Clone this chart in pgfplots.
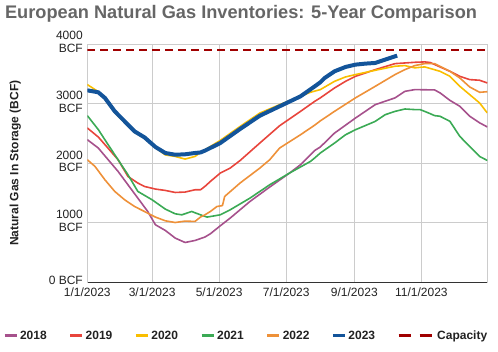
\documentclass[border=0pt]{standalone}
\usepackage{pgfplots}
\pgfplotsset{compat=1.18}
\usepackage{fontspec}
\setmainfont{Liberation Sans}
\definecolor{c2018}{HTML}{A6518C}
\definecolor{c2019}{HTML}{E8453C}
\definecolor{c2020}{HTML}{F9BE00}
\definecolor{c2021}{HTML}{3BAA55}
\definecolor{c2022}{HTML}{EE9139}
\definecolor{c2023}{HTML}{13549A}
\definecolor{ccap}{HTML}{A00000}
\definecolor{cgrid}{HTML}{CCCCCC}
\definecolor{ctitle}{HTML}{666666}
\definecolor{ctext}{HTML}{222222}
\begin{document}
\begin{tikzpicture}
\useasboundingbox (0,0) rectangle (498pt,351pt);
\begin{axis}[
  at={(87.3pt,68.5pt)}, anchor=south west,
  width=400pt, height=238.5pt, scale only axis,
  xmin=0, xmax=364, ymin=0, ymax=4000,
  axis lines*=left,
  axis line style={-},
  x axis line style={draw=black!80, line width=1.2pt},
  y axis line style={draw=cgrid, line width=1pt},
  xtick={0,59,120,181,243,304,364},
  xticklabels={1/1/2023,3/1/2023,5/1/2023,7/1/2023,9/1/2023,11/1/2023,},
  ytick={0,1000,2000,3000,4000},
  yticklabels={0 BCF,{1000\\BCF},{2000\\BCF},{3000\\BCF},{4000\\BCF}},
  major tick length=0pt,
  grid=major,
  grid style={draw=cgrid, line width=1pt},
  xticklabel style={font=\fontsize{12}{13}\selectfont, text=ctext, yshift=-2pt},
  yticklabel style={font=\fontsize{12}{12.5}\selectfont, text=ctext, align=right, yshift=2pt, xshift=-1pt},
  ylabel={Natural Gas In Storage (BCF)},
  every axis y label/.style={at={(axis description cs:0,0.5)}, xshift=-72pt, rotate=90, anchor=center, font=\bfseries\fontsize{12}{13}\selectfont, text=ctext},
  title={European Natural Gas Inventories: 5-Year Comparison},
  title style={at={(rel axis cs:-0.206,1)}, anchor=base west, yshift=20pt, inner sep=0pt, font=\bfseries\fontsize{18.2}{20}\selectfont, text=ctitle},
  legend style={at={(rel axis cs:0.397,-0.224)}, anchor=center, draw=none, fill=none,
    font=\bfseries\fontsize{12}{13}\selectfont, text=ctext,
    /tikz/every even column/.append style={column sep=20pt}},
  legend columns=-1,
  legend image code/.code={\draw[#1, line width=3pt, solid] (0pt,0pt) -- (12pt,0pt);},
  every axis plot/.append style={line join=round},
]
% 2018
\addplot[c2018, line width=1.6pt] coordinates {
(0,2396)(10,2255)(19,2059)(28,1863)(37,1639)(46,1415)(55,1191)(62,968)(71,873)(80,745)(89,671)(98,705)(107,762)(112,817)(121,951)(130,1080)(148,1359)(166,1601)(184,1835)(194,1975)(207,2215)(212,2272)(225,2506)(244,2758)(262,2983)(280,3096)(289,3206)(298,3235)(316,3230)(321,3180)(330,3055)(339,2955)(348,2788)(357,2678)(364,2609)};
\addlegendentry{2018}
% 2019
\addplot[c2019, line width=1.6pt] coordinates {
(0,2592)(10,2440)(19,2250)(28,2059)(37,1779)(46,1668)(52,1611)(62,1567)(71,1544)(80,1510)(89,1517)(98,1555)(103,1555)(107,1611)(112,1695)(121,1835)(130,1919)(139,2045)(157,2339)(175,2629)(194,2870)(207,3039)(212,3096)(225,3263)(235,3374)(244,3458)(262,3570)(280,3671)(298,3693)(307,3700)(312,3690)(321,3615)(330,3542)(339,3458)(348,3403)(357,3392)(364,3347)};
\addlegendentry{2019}
% 2020
\addplot[c2020, line width=1.6pt] coordinates {
(0,3320)(10,3200)(16,3080)(25,2850)(34,2680)(43,2520)(52,2420)(62,2260)(71,2140)(80,2114)(89,2070)(98,2114)(103,2181)(121,2383)(139,2617)(157,2842)(175,2983)(194,3122)(203,3190)(212,3235)(225,3374)(235,3448)(244,3487)(262,3559)(280,3627)(289,3638)(298,3600)(307,3616)(312,3590)(321,3542)(330,3458)(339,3290)(348,3151)(357,3011)(364,2844)};
\addlegendentry{2020}
% 2021
\addplot[c2021, line width=1.6pt] coordinates {
(0,2799)(10,2565)(19,2310)(28,2059)(37,1807)(46,1527)(59,1387)(71,1231)(80,1152)(86,1135)(95,1191)(103,1135)(109,1097)(121,1135)(130,1219)(148,1415)(166,1639)(184,1835)(203,2030)(207,2090)(212,2171)(225,2339)(235,2478)(244,2562)(262,2702)(271,2814)(280,2870)(289,2910)(298,2900)(303,2899)(307,2870)(312,2832)(316,2799)(321,2788)(330,2703)(339,2450)(348,2282)(357,2114)(364,2047)};
\addlegendentry{2021}
% 2022
\addplot[c2022, line width=1.6pt] coordinates {
(0,2059)(7,1947)(16,1723)(25,1527)(34,1387)(43,1275)(52,1191)(62,1097)(71,1035)(80,1006)(89,1030)(98,1024)(103,1097)(107,1135)(112,1191)(118,1275)(123,1290)(125,1443)(139,1668)(157,1919)(166,2059)(175,2255)(194,2478)(207,2640)(212,2710)(225,2871)(244,3096)(262,3290)(280,3487)(289,3570)(298,3638)(307,3671)(316,3671)(321,3626)(330,3542)(339,3430)(348,3279)(357,3190)(364,3200)};
\addlegendentry{2022}
% 2023
\addplot[c2023, line width=4pt] coordinates {
(0,3223)(10,3190)(16,3096)(25,2871)(34,2703)(43,2535)(52,2435)(62,2273)(71,2172)(80,2143)(89,2150)(98,2172)(103,2181)(107,2211)(121,2339)(139,2574)(157,2797)(175,2955)(194,3122)(207,3290)(212,3357)(216,3430)(225,3542)(235,3615)(244,3654)(253,3671)(262,3682)(271,3738)(282,3805)};
\addlegendentry{2023}
% Capacity
\addplot[ccap, line width=2.2pt, dash pattern=on 8pt off 5pt,
  legend image code/.code={\draw[ccap, line width=3pt, dash pattern=on 12pt off 9pt] (0pt,0pt) -- (35pt,0pt);}]
  coordinates {(0,3900)(364,3900)};
\addlegendentry{Capacity}
\end{axis}
\end{tikzpicture}
\end{document}
